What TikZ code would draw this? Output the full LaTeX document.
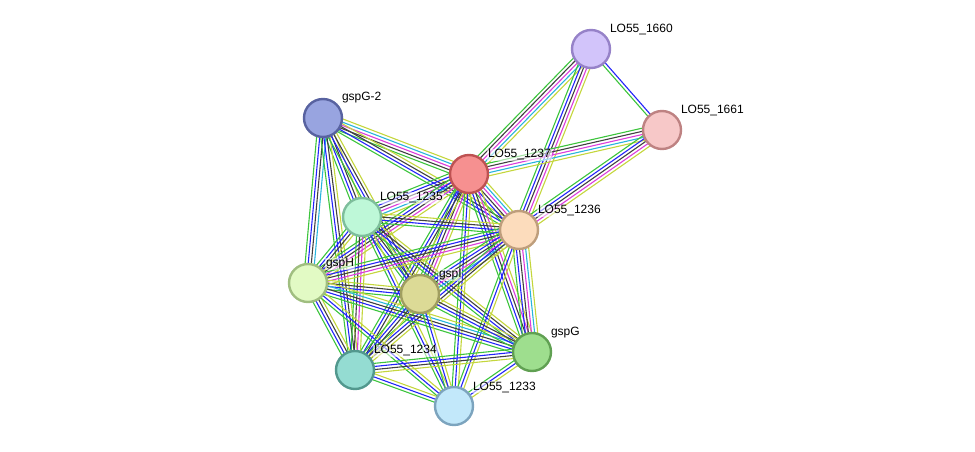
\documentclass[tikz,border=0pt]{standalone}
\usepackage{fontspec}
\setmainfont{Liberation Sans}
\usetikzlibrary{calc,backgrounds}
\definecolor{eg}{RGB}{60,196,60}
\definecolor{eb}{RGB}{35,35,250}
\definecolor{ek}{RGB}{64,64,64}
\definecolor{em}{RGB}{220,60,220}
\definecolor{ec}{RGB}{40,180,220}
\definecolor{ey}{RGB}{196,214,60}
\tikzset{
  prot/.style={circle,minimum size=38pt,inner sep=0pt,line width=2.4pt},
  lab/.style={anchor=west,font=\fontsize{12}{12}\selectfont,inner sep=0.8pt,fill=white,fill opacity=0.55,text opacity=1},
  edgeline/.style={line width=1.1pt}
}
\newcommand{\edg}[4]{%
  \foreach \cc [count=\ii] in {#4} {%
    \pgfmathsetmacro\off{(\ii-1-(#3-1)/2)*3.1}%
    \draw[edgeline,\cc] ($(#1.center)!\off pt!90:(#2.center)$) -- ($(#2.center)!\off pt!-90:(#1.center)$);
  }%
}
\begin{document}
\begin{tikzpicture}[x=1pt,y=-1pt]
\useasboundingbox (0,0) rectangle (975,452);
% nodes
\node[prot,fill={rgb,255:red,210;green,196;blue,250},draw={rgb,255:red,150;green,130;blue,200}] (A) at (591,49) {};
\node[prot,fill={rgb,255:red,247;green,200;blue,200},draw={rgb,255:red,190;green,130;blue,130}] (B) at (662,130) {};
\node[prot,fill={rgb,255:red,152;green,164;blue,224},draw={rgb,255:red,88;green,98;blue,160}] (G2) at (323,118) {};
\node[prot,fill={rgb,255:red,246;green,144;blue,144},draw={rgb,255:red,190;green,82;blue,82}] (R) at (469,174) {};
\node[prot,fill={rgb,255:red,190;green,248;blue,216},draw={rgb,255:red,126;green,190;blue,156}] (C35) at (362,217) {};
\node[prot,fill={rgb,255:red,252;green,220;blue,188},draw={rgb,255:red,190;green,158;blue,124}] (C36) at (519,230) {};
\node[prot,fill={rgb,255:red,226;green,250;blue,196},draw={rgb,255:red,160;green,190;blue,128}] (H) at (308,283) {};
\node[prot,fill={rgb,255:red,220;green,218;blue,150},draw={rgb,255:red,160;green,158;blue,96}] (I) at (420,294) {};
\node[prot,fill={rgb,255:red,158;green,222;blue,142},draw={rgb,255:red,96;green,160;blue,82}] (G) at (532,352) {};
\node[prot,fill={rgb,255:red,148;green,220;blue,210},draw={rgb,255:red,82;green,152;blue,142}] (C34) at (355,370) {};
\node[prot,fill={rgb,255:red,194;green,232;blue,250},draw={rgb,255:red,124;green,164;blue,190}] (C33) at (454,406) {};
% labels
\node[lab] (lA) at (609,30) {LO55\_1660};
\node[lab] (lB) at (680,111) {LO55\_1661};
\node[lab] (lG2) at (341,98) {gspG-2};
\node[lab] (lR) at (487,155) {LO55\_1237};
\node[lab] (lC35) at (379,198) {LO55\_1235};
\node[lab] (lC36) at (537,211) {LO55\_1236};
\node[lab] (lH) at (325,264) {gspH};
\node[lab] (lI) at (438,275) {gspI};
\node[lab] (lG) at (550,333) {gspG};
\node[lab] (lC34) at (373,351) {LO55\_1234};
\node[lab] (lC33) at (472,387) {LO55\_1233};
% edges
\begin{pgfonlayer}{background}
\edg{A}{B}{2}{eg,eb}
\edg{A}{R}{5}{eg,ek,em,ec,ey}
\edg{A}{C36}{5}{eg,eb,ek,em,ey}
\edg{B}{R}{5}{eg,ek,em,ec,ey}
\edg{B}{C36}{5}{eg,eb,ek,em,ey}
\edg{G2}{R}{5}{eg,ek,em,ec,ey}
\edg{G2}{C36}{4}{eg,eb,ek,ey}
\edg{G2}{C35}{4}{eg,eb,ek,ey}
\edg{G2}{H}{4}{eg,eb,ek,ec}
\edg{G2}{C34}{4}{eg,eb,ek,ey}
\edg{G2}{I}{4}{eg,eb,ek,ey}
\edg{R}{C35}{6}{eg,eb,ek,em,ec,ey}
\edg{R}{C36}{6}{eg,eb,ek,em,ec,ey}
\edg{R}{H}{5}{eg,eb,ek,em,ey}
\edg{R}{I}{5}{eg,eb,ek,em,ey}
\edg{R}{G}{5}{eg,eb,ek,em,ey}
\edg{R}{C34}{4}{eg,eb,ek,ey}
\edg{R}{C33}{3}{eg,eb,ey}
\edg{C35}{C36}{4}{eg,eb,ek,ey}
\edg{C35}{H}{4}{eg,eb,ek,ey}
\edg{C35}{I}{4}{eg,eb,ek,ey}
\edg{C35}{G}{4}{eg,eb,ek,ey}
\edg{C35}{C34}{4}{eg,ek,em,ey}
\edg{C35}{C33}{3}{eg,eb,ey}
\edg{C36}{H}{5}{eg,eb,ek,em,ey}
\edg{C36}{I}{6}{eg,eb,ek,em,ec,ey}
\edg{C36}{G}{6}{eg,eb,ek,em,ec,ey}
\edg{C36}{C34}{4}{eg,eb,ek,ey}
\edg{C36}{C33}{3}{eg,eb,ey}
\edg{H}{I}{4}{eg,eb,ek,ey}
\edg{H}{G}{5}{eg,eb,ek,ec,ey}
\edg{H}{C34}{4}{eg,eb,ek,ey}
\edg{H}{C33}{3}{eg,eb,ey}
\edg{I}{G}{4}{eg,eb,ek,ey}
\edg{I}{C34}{4}{eg,eb,ek,ey}
\edg{I}{C33}{3}{eg,eb,ey}
\edg{G}{C34}{4}{eg,eb,ek,ey}
\edg{G}{C33}{3}{eg,eb,ey}
\edg{C34}{C33}{3}{eg,eb,ey}
\end{pgfonlayer}
\end{tikzpicture}
\end{document}
